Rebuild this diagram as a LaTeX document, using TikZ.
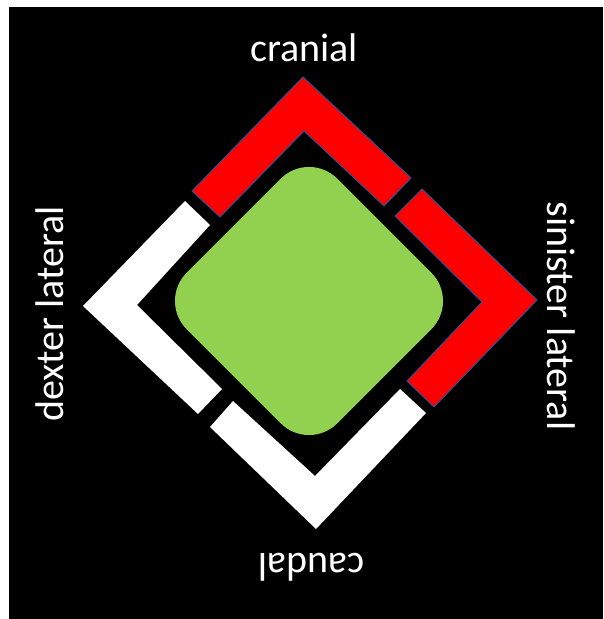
\documentclass[tikz,border=0pt]{standalone}
\usepackage{fontspec}
\setmainfont{Carlito}
\definecolor{officegreen}{HTML}{92D050}
\definecolor{officered}{HTML}{FF0000}
\definecolor{officeblue}{HTML}{2F528F}
\begin{document}
\begin{tikzpicture}[x=0.5pt,y=-0.5pt,
  redband/.style={fill=officered,draw=officeblue,line width=0.5pt,line join=miter},
  whiteband/.style={fill=white},
  centerbox/.style={fill=officegreen,rounded corners=20pt},
  label/.style={text=white,inner sep=0pt,font=\fontsize{20}{24}\selectfont}]
\useasboundingbox (0,0) rectangle (603,619);
\fill[white] (0,0) rectangle (603,619);
\fill[black] (9,7) rectangle (603,619);
% green rounded square
\path[centerbox] (309,150.4) -- (459.6,301) -- (309,451.6) -- (158.4,301) -- cycle;
% top red chevron
\path[redband] (192,191) -- (303,77) -- (411,178) -- (384,206) -- (304,131) -- (220,217) -- cycle;
% right red chevron
\path[redband] (422,189) -- (537,300) -- (434,407) -- (407,381) -- (482,302) -- (395,216) -- cycle;
% bottom white chevron
\path[whiteband] (210,427) -- (316,529) -- (426,413) -- (400,389) -- (315,476) -- (233,401) -- cycle;
% left white chevron
\path[whiteband] (185,201) -- (83,306) -- (198,414) -- (222,389) -- (137,305) -- (210,225) -- cycle;
% labels
\node[label] (cranial) at (304,47.5) {cranial};
\node[label,rotate=180] (caudal) at (311,567) {caudal};
\node[label,rotate=90] (dexter) at (50,314) {dexter lateral};
\node[label,rotate=-90] (sinister) at (561,316) {sinister lateral};
\end{tikzpicture}
\end{document}
